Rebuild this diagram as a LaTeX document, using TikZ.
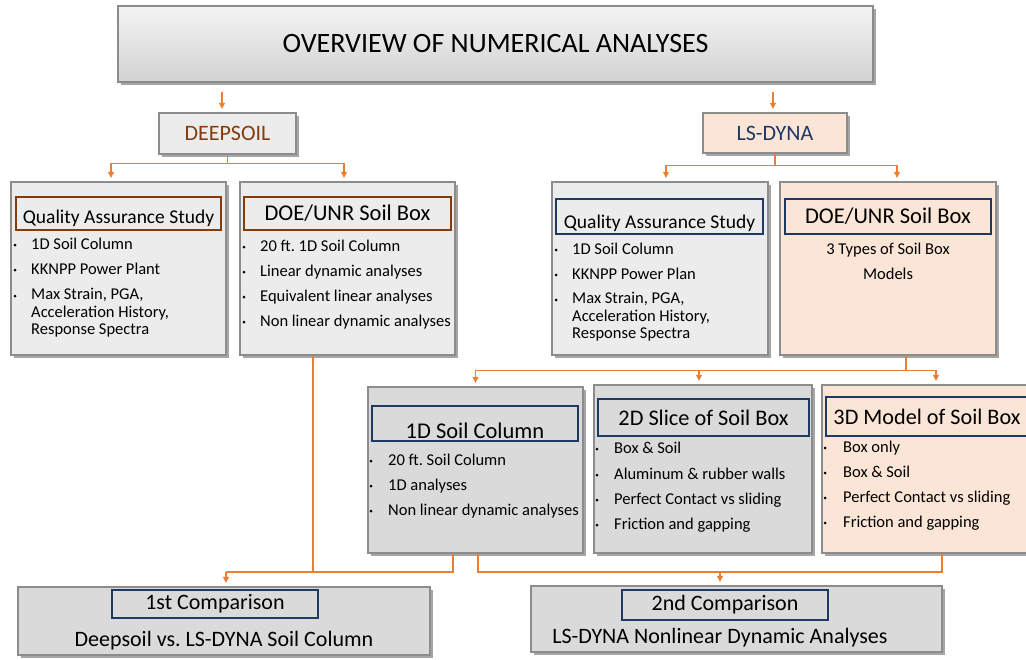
\documentclass[tikz,border=0pt]{standalone}
\usepackage{fontspec}
\setmainfont{Carlito}
\usetikzlibrary{arrows.meta,shadows}
\frenchspacing

\definecolor{flowor}{HTML}{ED7D31}
\definecolor{frame}{HTML}{8C8C8C}
\definecolor{peach}{HTML}{FBE5D6}
\definecolor{panelgray}{HTML}{ECECEC}
\definecolor{midgray}{HTML}{DADADA}
\definecolor{titletop}{HTML}{F4F4F4}
\definecolor{titlebot}{HTML}{D2D2D2}
\definecolor{brownline}{HTML}{843C0C}
\definecolor{navy}{HTML}{1F3864}

\begin{document}
\begin{tikzpicture}[
  x=1pt, y=-1pt,
  >={Triangle[length=6pt,width=6pt]},
  every node/.style={font=\fontsize{16.5}{19}\selectfont},
  panel/.style={draw=frame, line width=1.3pt, fill=panelgray, inner sep=0pt,
                drop shadow={shadow xshift=2.5pt, shadow yshift=-2.5pt,
                             opacity=.35, fill=black}},
  head/.style={draw, line width=1.2pt, inner sep=0pt},
  item/.style={anchor=west, inner sep=0pt, text height=11pt, text depth=3pt},
  multi/.style={anchor=north west, inner sep=0pt, align=left,
                font=\fontsize{16.5}{17.5}\selectfont},
  dot/.style={circle, fill=black, inner sep=0pt, minimum size=3pt},
  flow/.style={->, draw=flowor, line width=1.2pt, shorten >=3.5pt},
  wire/.style={draw=flowor, line width=1.2pt},
]
  \useasboundingbox (0,0) rectangle (1026,659);

  % title and the two programs
  \node[panel, top color=titletop, bottom color=titlebot, line width=1.6pt,
        minimum width=755pt, minimum height=76pt,
        font=\fontsize{28}{33}\selectfont] (title) at (495.5,44)
    {OVERVIEW OF NUMERICAL ANALYSES};
  \node[panel, minimum width=137pt, minimum height=41pt, text=brownline,
        font=\fontsize{22}{26}\selectfont] (deep) at (227.5,133.5) {DEEPSOIL};
  \node[panel, fill=peach, minimum width=144pt, minimum height=40pt, text=navy,
        font=\fontsize{22}{26}\selectfont] (lsd) at (775,133) {LS-DYNA};

  % second row
  \node[panel, minimum width=215pt, minimum height=173pt] (qaL) at (118.5,268.5) {};
  \node[head, draw=brownline, minimum width=205pt, minimum height=33pt,
        text height=23.5pt, text depth=4pt,
        font=\fontsize{19.5}{23}\selectfont] (qaL-h) at (118.5,213.5)
    {Quality Assurance Study};
  \node[panel, minimum width=215pt, minimum height=173pt] (doeL) at (347.5,268.5) {};
  \node[head, draw=brownline, minimum width=207pt, minimum height=33pt,
        font=\fontsize{22.5}{26}\selectfont] (doeL-h) at (347.5,213.5)
    {DOE/UNR Soil Box};
  \node[panel, minimum width=216pt, minimum height=173pt] (qaR) at (660,268.5) {};
  \node[head, draw=navy, minimum width=207pt, minimum height=35pt,
        text height=27.5pt, text depth=4pt,
        font=\fontsize{19.5}{23}\selectfont] (qaR-h) at (659.5,216.5)
    {Quality Assurance Study};
  \node[panel, fill=peach, minimum width=216pt, minimum height=173pt] (doeR) at (888,268.5) {};
  \node[head, draw=navy, minimum width=206pt, minimum height=35pt,
        font=\fontsize{22.5}{26}\selectfont] (doeR-h) at (888,216.5)
    {DOE/UNR Soil Box};
  \node[align=center, font=\fontsize{16.5}{25}\selectfont] (doeR-t) at (888,261)
    {3 Types of Soil Box\\Models};

  % third row
  \node[panel, fill=midgray, minimum width=215pt, minimum height=166pt] (col1) at (475.5,470) {};
  \node[head, draw=navy, minimum width=206pt, minimum height=35pt,
        text height=32pt, text depth=2.5pt,
        font=\fontsize{22.5}{26}\selectfont] (col1-h) at (475,423.5)
    {1D Soil Column};
  \node[panel, fill=midgray, minimum width=218pt, minimum height=168pt] (slice) at (703,469) {};
  \node[head, draw=navy, minimum width=211pt, minimum height=37pt,
        font=\fontsize{22.3}{26}\selectfont] (slice-h) at (703.5,417.5)
    {2D Slice of Soil Box};
  \node[panel, fill=peach, minimum width=210pt, minimum height=168pt] (model) at (927,469) {};
  \node[head, draw=navy, minimum width=202pt, minimum height=39pt,
        font=\fontsize{22.2}{26}\selectfont] (model-h) at (927,416.5)
    {3D Model of Soil Box};

  % comparisons
  \node[panel, fill=midgray, minimum width=412pt, minimum height=68pt] (cmp1) at (224,621) {};
  \node[head, draw=navy, minimum width=206pt, minimum height=28pt,
        font=\fontsize{22}{26}\selectfont] (cmp1-h) at (215,604) {1st Comparison};
  \node[font=\fontsize{22}{26}\selectfont] (cmp1-t) at (224,641)
    {Deepsoil vs. LS-DYNA Soil Column};
  \node[panel, fill=midgray, minimum width=411pt, minimum height=66pt] (cmp2) at (736.5,619) {};
  \node[head, draw=navy, minimum width=206pt, minimum height=30pt,
        font=\fontsize{22}{26}\selectfont] (cmp2-h) at (725,605) {2nd Comparison};
  \node[font=\fontsize{22}{26}\selectfont] (cmp2-t) at (720,638)
    {LS-DYNA Nonlinear Dynamic Analyses};

  % bullet lists
  \foreach \yy [count=\i] in {245, 270, 296}{
    \node[dot] (qaL-d\i) at (15,\yy) {};
  }
  \foreach \txt/\yy [count=\i] in {1D Soil Column/245, KKNPP Power Plant/270}{
    \node[item] (qaL-\i) at (31,\yy) {\txt};
  }
  \node[multi] (qaL-3) at (31,288) {Max Strain, PGA,\\Acceleration History,\\Response Spectra};

  \foreach \txt/\yy [count=\i] in {20 ft. 1D Soil Column/247, Linear dynamic analyses/272,
      Equivalent linear analyses/297, Non linear dynamic analyses/322}{
    \node[dot] (doeL-d\i) at (244,\yy) {};
    \node[item] (doeL-\i) at (260,\yy) {\txt};
  }

  \foreach \yy [count=\i] in {250, 275, 300}{
    \node[dot] (qaR-d\i) at (556,\yy) {};
  }
  \foreach \txt/\yy [count=\i] in {1D Soil Column/250, KKNPP Power Plan/275}{
    \node[item] (qaR-\i) at (572,\yy) {\txt};
  }
  \node[multi] (qaR-3) at (572,292) {Max Strain, PGA,\\Acceleration History,\\Response Spectra};

  \foreach \txt/\yy [count=\i] in {20 ft. Soil Column/461, 1D analyses/486,
      Non linear dynamic analyses/511}{
    \node[dot] (col1-d\i) at (371,\yy) {};
    \node[item] (col1-\i) at (388,\yy) {\txt};
  }

  \foreach \txt/\yy [count=\i] in {Box \& Soil/449, Aluminum \& rubber walls/475,
      Perfect Contact vs sliding/500, Friction and gapping/525}{
    \node[dot] (slice-d\i) at (597,\yy) {};
    \node[item] (slice-\i) at (614,\yy) {\txt};
  }

  \foreach \txt/\yy [count=\i] in {Box only/448, Box \& Soil/473,
      Perfect Contact vs sliding/498, Friction and gapping/523}{
    \node[dot] (model-d\i) at (825,\yy) {};
    \node[item] (model-\i) at (843,\yy) {\txt};
  }

  % connectors
  \coordinate (t1) at (222,92);
  \coordinate (t2) at (773,92);
  \draw[flow] (t1) -- (t1 |- deep.north);
  \draw[flow] (t2) -- (t2 |- lsd.north);

  \draw[wire] (deep.south) -- ++(0,9) coordinate (dsplit);
  \draw[flow] (dsplit) -| ([xshift=-7.5pt]qaL.north);
  \draw[flow] (dsplit) -| ([xshift=-3.5pt]doeL.north);

  \draw[wire] (lsd.south) -- ++(0,12) coordinate (lsplit);
  \draw[flow] (lsplit) -| ([xshift=6pt]qaR.north);
  \draw[flow] (lsplit) -| ([xshift=9pt]doeR.north);

  \draw[wire] ([xshift=18pt]doeR.south) -- ++(0,15) coordinate (msplit);
  \draw[flow] (msplit) -| (col1.north);
  \draw[flow] (msplit) -| ([xshift=-4pt]slice.north);
  \draw[flow] (msplit) -| ([xshift=9pt]model.north);

  \coordinate (bus) at (0,572);
  \draw[wire] ([xshift=-34.5pt]doeL.south) coordinate (d1) -- (d1 |- bus);
  \draw[wire] ([xshift=-22.5pt]col1.south) |- ([xshift=2pt]cmp1.north |- bus);
  \draw[flow] ([xshift=2pt]cmp1.north |- bus) -- ([xshift=2pt]cmp1.north);
  \draw[wire] ([xshift=2.5pt]col1.south) |- ([xshift=15pt]model.south |- bus)
    -- ([xshift=15pt]model.south);
  \draw[flow] ([xshift=-16.5pt]cmp2.north |- bus) -- ([xshift=-16.5pt]cmp2.north);
\end{tikzpicture}
\end{document}
